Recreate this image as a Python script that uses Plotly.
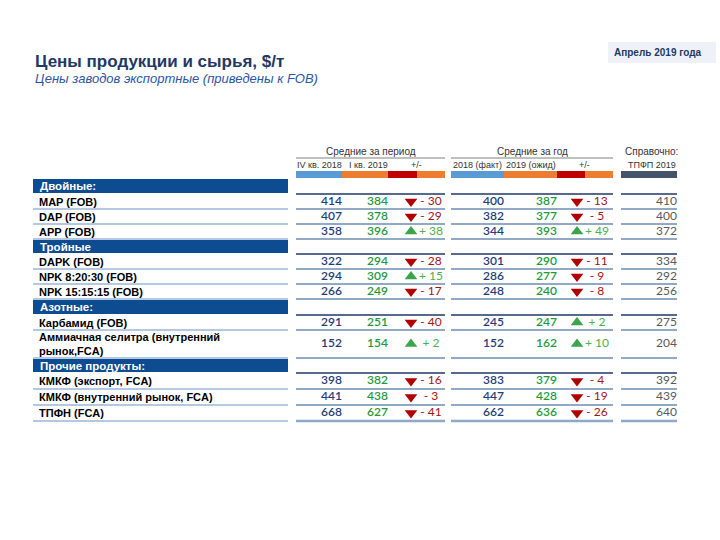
import plotly.graph_objects as go

# ---- data ----
categories = ["Двойные:", "Тройные", "Азотные:", "Прочие продукты:"]
products = [
    ["MAP (FOB)", "DAP (FOB)", "APP (FOB)"],
    ["DAPK (FOB)", "NPK 8:20:30 (FOB)", "NPK 15:15:15 (FOB)"],
    ["Карбамид (FOB)", "Аммиачная селитра (внутренний<br>рынок,FCA)"],
    ["КМКФ (экспорт, FCA)", "КМКФ (внутренний рынок, FCA)", "ТПФН (FCA)"],
]
q4_2018 = [414, 407, 358, 322, 294, 266, 291, 152, 398, 441, 668]
q1_2019 = [384, 378, 396, 294, 309, 249, 251, 154, 382, 438, 627]
diff_q = [-30, -29, 38, -28, 15, -17, -40, 2, -16, -3, -41]
fact_2018 = [400, 382, 344, 301, 286, 248, 245, 152, 383, 447, 662]
exp_2019 = [387, 377, 393, 290, 277, 240, 247, 162, 379, 428, 636]
diff_y = [-13, -5, 49, -11, -9, -8, 2, 10, -4, -19, -26]
tpfp_2019 = [410, 400, 372, 334, 292, 256, 275, 204, 392, 439, 640]

group_titles = ["Средние за период", "Средние за год", "Справочно:"]
sub_titles = [["IV кв. 2018", "I кв. 2019", "+/-"],
              ["2018 (факт)", "2019 (ожид)", "+/-"],
              ["ТПФП 2019"]]

# ---- layout constants (pixels of the 720x540 page) ----
NAVY = "#1f3864"
BAND = "#0e4c92"
row_h = [16, 15, 15, 15, 15, 15, 15, 15, 16, 15, 28, 15, 16, 16, 16]
top = 178
bounds = [top]
for h in row_h:
    bounds.append(bounds[-1] + h)

# which display rows are category bands / products
row_kind = []
for ci, cat in enumerate(categories):
    row_kind.append(("cat", cat))
    for p in products[ci]:
        row_kind.append(("prod", p))

prod_y = [(bounds[i] + bounds[i + 1]) / 2 for i, k in enumerate(row_kind) if k[0] == "prod"]
cat_rows = [i for i, k in enumerate(row_kind) if k[0] == "cat"]

label_x0, label_x1 = 33, 288
groups_x = [(296, 445), (451, 613), (621, 677)]
bar_segments = [
    [(296, 342, "#5b9bd5"), (342, 388, "#ed7d31"), (388, 417, "#c00000"), (417, 445, "#ed7d31")],
    [(451, 504, "#5b9bd5"), (504, 557, "#ed7d31"), (557, 585, "#c00000"), (585, 613, "#ed7d31")],
    [(621, 677, "#44546a")],
]
sub_x = [[319, 368, 416], [477, 531, 584], [652]]

shapes = []
annotations = []

# title block
annotations.append(dict(x=33, y=61, text="<b>Цены продукции и сырья, $/т</b>", xanchor="left",
                        font=dict(size=17, color=NAVY, family="Liberation Sans")))
annotations.append(dict(x=33, y=78, text="<i>Цены заводов экспортные (приведены к FOB)</i>", xanchor="left",
                        font=dict(size=13, color="#2a56a5", family="Liberation Sans")))
shapes.append(dict(type="rect", x0=608, x1=716, y0=42, y1=63, fillcolor="#eef2f8", line_width=0, layer="below"))
annotations.append(dict(x=658, y=52.5, text="<b>Апрель 2019 года</b>", xanchor="center",
                        font=dict(size=10, color=NAVY, family="Liberation Sans")))

# column headers
for gi, (gx0, gx1) in enumerate(groups_x):
    annotations.append(dict(x=(gx0 + gx1) / 2 + (2 if gi == 2 else 0), y=151, text=group_titles[gi],
                            xanchor="center", font=dict(size=10, color="#333333", family="Liberation Sans")))
    if gi < 2:
        shapes.append(dict(type="line", x0=gx0, x1=gx1, y0=158, y1=158, line=dict(color="#808080", width=1)))
    for sx, st in zip(sub_x[gi], sub_titles[gi]):
        annotations.append(dict(x=sx, y=165, text=st, xanchor="center",
                                font=dict(size=9, color="#333333", family="Liberation Sans")))
    for x0, x1, c in bar_segments[gi]:
        shapes.append(dict(type="rect", x0=x0, x1=x1, y0=171, y1=178, fillcolor=c, line_width=0))

# rows: bands, labels, lines
for i, (kind, txt) in enumerate(row_kind):
    y0, y1 = bounds[i], bounds[i + 1]
    yc = (y0 + y1) / 2
    if kind == "cat":
        shapes.append(dict(type="rect", x0=label_x0, x1=label_x1, y0=y0 + 1, y1=y1 - 1,
                           fillcolor=BAND, line_width=0))
        annotations.append(dict(x=38, y=yc, text="<b>" + txt + "</b>", xanchor="left",
                                font=dict(size=11.5, color="white", family="Liberation Sans")))
    else:
        annotations.append(dict(x=37, y=yc, text="<b>" + txt + "</b>", xanchor="left", align="left",
                                font=dict(size=11, color="black", family="Liberation Sans")))
        shapes.append(dict(type="line", x0=label_x0, x1=label_x1, y0=y1, y1=y1,
                           line=dict(color="#9db6d8", width=1.5)))

for i in range(1, len(bounds)):
    b = bounds[i]
    last = i == len(bounds) - 1
    after_cat = (i - 1) in cat_rows
    col = "#8ea9c8" if last else (NAVY if after_cat else "#6d8bb3")
    w = 2.5 if last else 1.5
    for gx0, gx1 in groups_x:
        shapes.append(dict(type="line", x0=gx0, x1=gx1, y0=b, y1=b, line=dict(color=col, width=w)))

fig = go.Figure()

num_font = "Lato"


def value_trace(xpos, vals, color, weight=600):
    return go.Scatter(x=[xpos] * len(vals), y=prod_y, mode="text", text=[str(v) for v in vals],
                      textposition="middle left",
                      textfont=dict(size=12, color=color, family=num_font, weight=weight),
                      hoverinfo="skip", showlegend=False)


def diff_traces(tri_x, txt_x, vals):
    out = []
    sym = ["triangle-up" if v > 0 else "triangle-down" for v in vals]
    mcol = ["#3aa54a" if v > 0 else "#b00000" for v in vals]
    tcol = ["#4caf50" if v > 0 else "#a31515" for v in vals]
    out.append(go.Scatter(x=[tri_x] * len(vals), y=prod_y, mode="markers",
                          marker=dict(symbol=sym, color=mcol, size=11, line_width=0),
                          hoverinfo="skip", showlegend=False))
    out.append(go.Scatter(x=[txt_x] * len(vals), y=prod_y, mode="text",
                          text=[("+ " if v > 0 else "- ") + str(abs(v)) for v in vals],
                          textposition="middle center",
                          textfont=dict(size=12, color=tcol, family=num_font),
                          hoverinfo="skip", showlegend=False))
    return out


fig.add_trace(value_trace(342, q4_2018, "#1f3d7a"))
fig.add_trace(value_trace(388, q1_2019, "#1e9a3c"))
for t in diff_traces(411, 431, diff_q):
    fig.add_trace(t)
fig.add_trace(value_trace(504, fact_2018, "#1f3d7a"))
fig.add_trace(value_trace(557, exp_2019, "#1e9a3c"))
for t in diff_traces(577, 597, diff_y):
    fig.add_trace(t)
fig.add_trace(value_trace(677, tpfp_2019, "#595959", weight="normal"))

for a in annotations:
    a.update(xref="x", yref="y", showarrow=False, yanchor="middle")

fig.update_layout(
    width=720, height=540,
    margin=dict(l=0, r=0, t=0, b=0),
    paper_bgcolor="white", plot_bgcolor="white",
    xaxis=dict(range=[0, 720], visible=False, fixedrange=True),
    yaxis=dict(range=[540, 0], visible=False, fixedrange=True),
    shapes=shapes, annotations=annotations,
)

# drop the page's default body margin so the 720x540 figure fills the window
fig.write_html("out.html", config={"displayModeBar": False},
               post_script="document.body.style.margin='0';")
